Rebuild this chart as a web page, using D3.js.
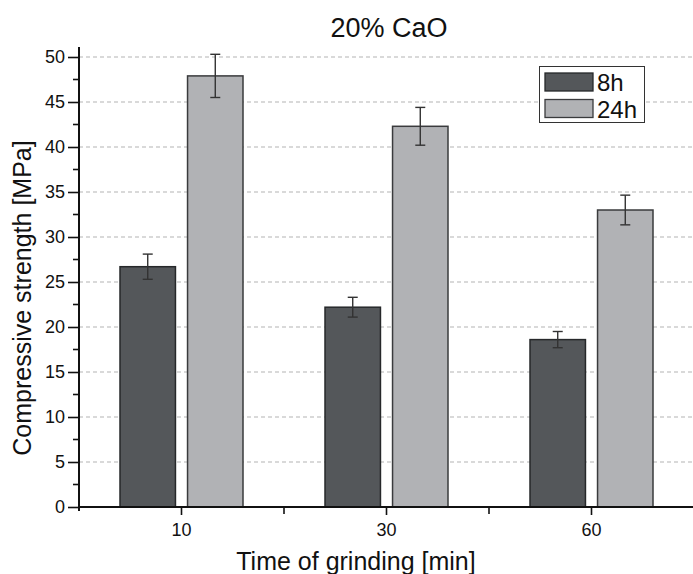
<!DOCTYPE html>
<html>
<head>
<meta charset="utf-8">
<script src="https://cdn.jsdelivr.net/npm/d3@7"></script>
<style>
  html, body { margin: 0; padding: 0; background: #fff; }
  svg { display: block; font-family: "Liberation Sans", Arial, sans-serif; }
</style>
</head>
<body>
<svg id="chart" width="693" height="574"></svg>
<script>
// ---- data ----
const categories = ["10", "30", "60"];
const seriesNames = ["8h", "24h"];
const values8h = [26.7, 22.2, 18.6];
const errors8h = [1.4, 1.1, 0.9];
const values24h = [47.9, 42.3, 33.0];
const errors24h = [2.4, 2.1, 1.65];
const yTicks = [0, 5, 10, 15, 20, 25, 30, 35, 40, 45, 50];
const yMinorTicks = [2.5, 7.5, 12.5, 17.5, 22.5, 27.5, 32.5, 37.5, 42.5, 47.5];
const titleText = "20% CaO";
const xTitle = "Time of grinding [min]";
const yTitle = "Compressive strength [MPa]";

(function () {
const seriesValues = { "8h": values8h, "24h": values24h };
const seriesErrors = { "8h": errors8h, "24h": errors24h };
const colors = { "8h": "#54575a", "24h": "#b1b2b5" };
const strokes = { "8h": "#26282a", "24h": "#3a3b3d" };

// ---- layout ----
const svg = d3.select("#chart");
const pLeft = 79, pRight = 694, pTop = 47, pBottom = 507;

const x = d3.scaleBand().domain(categories).range([pLeft, pRight]).paddingInner(0).paddingOuter(0);
const xs = d3.scaleBand().domain(seriesNames).range([41, 164]).paddingInner(0.179);
const y = d3.scaleLinear().domain([0, 50]).range([pBottom, 57]);

// grid lines
svg.append("g").selectAll("line").data(yTicks.filter(d => d > 0)).join("line")
  .attr("x1", pLeft).attr("x2", 693)
  .attr("y1", d => y(d)).attr("y2", d => y(d))
  .attr("stroke", "#b3b3b3").attr("stroke-width", 1)
  .attr("stroke-dasharray", "4,3");

// bars
const rows = [];
categories.forEach((c, i) => seriesNames.forEach(s => rows.push({ c, s, v: seriesValues[s][i], e: seriesErrors[s][i] })));

svg.append("g").selectAll("rect").data(rows).join("rect")
  .attr("x", d => x(d.c) + xs(d.s))
  .attr("y", d => y(d.v))
  .attr("width", xs.bandwidth())
  .attr("height", d => y(0) - y(d.v))
  .attr("fill", d => colors[d.s])
  .attr("stroke", d => strokes[d.s])
  .attr("stroke-width", 1.5);

// error bars
const eg = svg.append("g").attr("stroke", "#333").attr("stroke-width", 1.4);
rows.forEach(d => {
  const cx = x(d.c) + xs(d.s) + xs.bandwidth() / 2;
  eg.append("line").attr("x1", cx).attr("x2", cx).attr("y1", y(d.v + d.e)).attr("y2", y(d.v - d.e));
  eg.append("line").attr("x1", cx - 5).attr("x2", cx + 5).attr("y1", y(d.v + d.e)).attr("y2", y(d.v + d.e));
  eg.append("line").attr("x1", cx - 5).attr("x2", cx + 5).attr("y1", y(d.v - d.e)).attr("y2", y(d.v - d.e));
});

// y axis
const yAxisG = svg.append("g").attr("transform", `translate(${pLeft},0)`)
  .call(d3.axisLeft(y).tickValues(yTicks).tickSize(11).tickPadding(3).tickFormat(d3.format("d")));
yAxisG.select(".domain").remove();
yAxisG.selectAll(".tick line").attr("stroke", "#111").attr("stroke-width", 1.6);
yAxisG.selectAll(".tick text").attr("font-size", 18).attr("fill", "#111")
  .attr("font-family", "'Liberation Sans', Arial, sans-serif");
svg.append("g").selectAll("line").data(yMinorTicks).join("line")
  .attr("x1", pLeft - 6).attr("x2", pLeft).attr("y1", d => y(d)).attr("y2", d => y(d))
  .attr("stroke", "#111").attr("stroke-width", 1.6);
svg.append("line").attr("x1", pLeft).attr("x2", pLeft).attr("y1", pTop).attr("y2", pBottom + 4)
  .attr("stroke", "#111").attr("stroke-width", 2);

// x axis
const xAxisG = svg.append("g").attr("transform", `translate(0,${pBottom})`)
  .call(d3.axisBottom(x).tickSize(8).tickPadding(8));
xAxisG.select(".domain").remove();
xAxisG.selectAll(".tick line").attr("stroke", "#111").attr("stroke-width", 1.6);
xAxisG.selectAll(".tick text").attr("font-size", 18).attr("fill", "#111")
  .attr("font-family", "'Liberation Sans', Arial, sans-serif");
const boundaries = categories.slice(1).map(c => x(c));
svg.append("g").selectAll("line").data(boundaries).join("line")
  .attr("x1", d => d).attr("x2", d => d).attr("y1", pBottom).attr("y2", pBottom + 7)
  .attr("stroke", "#111").attr("stroke-width", 1.6);
svg.append("line").attr("x1", pLeft - 1).attr("x2", 693).attr("y1", pBottom).attr("y2", pBottom)
  .attr("stroke", "#111").attr("stroke-width", 2);

// titles
svg.append("text").attr("x", 389).attr("y", 37).attr("text-anchor", "middle")
  .attr("font-size", 27).attr("fill", "#111").text(titleText);
svg.append("text").attr("x", 356).attr("y", 570).attr("text-anchor", "middle")
  .attr("font-size", 25).attr("fill", "#111").text(xTitle);
svg.append("text").attr("transform", "translate(31,298) rotate(-90)").attr("text-anchor", "middle")
  .attr("font-size", 25).attr("fill", "#111").text(yTitle);

// legend
const lg = svg.append("g");
lg.append("rect").attr("x", 539.5).attr("y", 66.5).attr("width", 105).attr("height", 56)
  .attr("fill", "#fff").attr("stroke", "#333").attr("stroke-width", 1);
seriesNames.forEach((s, i) => {
  lg.append("rect").attr("x", 545).attr("y", 73 + i * 26.5).attr("width", 48).attr("height", 18)
    .attr("fill", colors[s]).attr("stroke", strokes[s]).attr("stroke-width", 1.3);
  lg.append("text").attr("x", 597).attr("y", 91 + i * 26.5)
    .attr("font-size", 24).attr("fill", "#111").text(s);
});
})();
</script>
</body>
</html>
